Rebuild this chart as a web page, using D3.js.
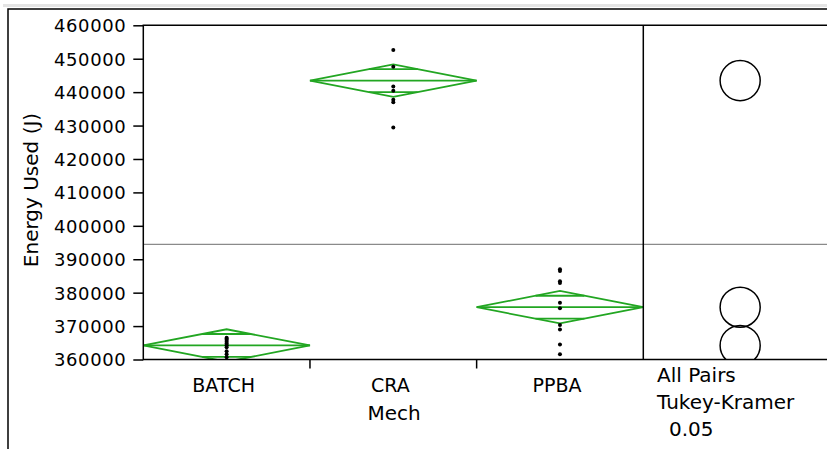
<!DOCTYPE html>
<html>
<head>
<meta charset="utf-8">
<script src="https://cdn.jsdelivr.net/npm/d3@7"></script>
<style>
  body { margin: 0; background: #fff; }
  text { font-family: "DejaVu Sans", sans-serif; fill: #000; }
</style>
</head>
<body>
<svg id="chart"></svg>
<script>
// Data
const categories = ["BATCH", "CRA", "PPBA"];
const yTicks = [360000, 370000, 380000, 390000, 400000, 410000, 420000, 430000, 440000, 450000, 460000];

// raw observations per group
const batchValues = [366500, 366200, 365800, 365300, 364800, 364300, 363700, 362500, 361600, 360700];
const craValues = [452600, 447600, 441700, 440400, 437700, 437000, 429400];
const ppbaValues = [387000, 386500, 383400, 382900, 377000, 375300, 370300, 369000, 364500, 361600];

// means diamonds: group mean and 95% CI half width
const groupMeans = [364200, 443450, 375650];
const ciHalf = [4850, 4850, 4850];
const grandMean = 394450;

// Tukey-Kramer comparison circles (radius in J)
const circleRadius = [6000, 6000, 6000];

const W = 827, H = 449;
const plot = { left: 143.3, right: 643.3, top: 25.3, bottom: 359.5 };
const panelRight = 827;
const green = "#22a622";

const svg = d3.select("#chart")
  .attr("width", W)
  .attr("height", H);

// outer frame bits
svg.append("rect")
  .attr("x", 3).attr("y", 4).attr("width", W).attr("height", 3)
  .attr("fill", "#e4e4e4");
svg.append("path")
  .attr("d", `M8,${H} V9 H${W}`)
  .attr("fill", "none").attr("stroke", "#000").attr("stroke-width", 1.5);

// scales
const x = d3.scaleBand()
  .domain(categories)
  .range([plot.left, plot.right])
  .padding(0);

const y = d3.scaleLinear()
  .domain([360000, 460000])
  .range([plot.bottom, plot.top]);

const defs = svg.append("defs");
defs.append("clipPath").attr("id", "clipPlot")
  .append("rect")
  .attr("x", plot.left).attr("y", plot.top)
  .attr("width", plot.right - plot.left).attr("height", plot.bottom - plot.top);
defs.append("clipPath").attr("id", "clipPanel")
  .append("rect")
  .attr("x", plot.right).attr("y", plot.top)
  .attr("width", panelRight - plot.right).attr("height", plot.bottom - plot.top);

// grand mean line (across plot and comparison panel)
svg.append("line")
  .attr("x1", plot.left).attr("x2", panelRight)
  .attr("y1", y(grandMean)).attr("y2", y(grandMean))
  .attr("stroke", "#8a8a8a").attr("stroke-width", 1.2);

// Y axis
const yAxis = svg.append("g")
  .attr("transform", `translate(${plot.left},0)`)
  .call(d3.axisLeft(y).tickValues(yTicks).tickSize(10).tickPadding(7).tickFormat(d => d));
yAxis.select(".domain").remove();
yAxis.selectAll(".tick line").attr("stroke", "#000").attr("stroke-width", 1.5);
yAxis.selectAll(".tick text")
  .style("font-size", "18px")
  .style("letter-spacing", "0.6px")
  .attr("dy", "0.36em");

// Y axis title
svg.append("text")
  .attr("transform", "translate(38," + 190 + ") rotate(-90)")
  .style("text-anchor", "middle")
  .style("font-size", "20px")
  .text("Energy Used (J)");

// means diamonds
const diamonds = svg.append("g").attr("clip-path", "url(#clipPlot)");
categories.forEach((c, i) => {
  const x0 = x(c), x1 = x(c) + x.bandwidth(), xc = x(c) + x.bandwidth() / 2;
  const m = groupMeans[i], h = ciHalf[i];
  diamonds.append("path")
    .attr("d", `M${x0},${y(m)} L${xc},${y(m + h)} L${x1},${y(m)} L${xc},${y(m - h)} Z`)
    .attr("fill", "none").attr("stroke", green).attr("stroke-width", 1.8);
  // mean line
  diamonds.append("line")
    .attr("x1", x0).attr("x2", x1).attr("y1", y(m)).attr("y2", y(m))
    .attr("stroke", green).attr("stroke-width", 1.8);
  // overlap marks at mean +/- half/sqrt(2)
  const k = 1 / Math.SQRT2;
  const half = x.bandwidth() / 2 * (1 - k);
  [m + h * k, m - h * k].forEach(v => {
    diamonds.append("line")
      .attr("x1", xc - half).attr("x2", xc + half)
      .attr("y1", y(v)).attr("y2", y(v))
      .attr("stroke", green).attr("stroke-width", 1.8);
  });
});

// points
const groups = [batchValues, craValues, ppbaValues];
const pts = groups.flatMap((vals, i) => vals.map(v => ({ cat: categories[i], v })));
svg.append("g").attr("clip-path", "url(#clipPlot)")
  .selectAll("circle")
  .data(pts)
  .enter()
  .append("circle")
  .attr("cx", d => x(d.cat) + x.bandwidth() / 2)
  .attr("cy", d => y(d.v))
  .attr("r", 2)
  .attr("fill", "#000");

// comparison circles
const cx = (plot.right + panelRight) / 2 + 5;
svg.append("g").attr("clip-path", "url(#clipPanel)")
  .selectAll("circle")
  .data(categories)
  .enter()
  .append("circle")
  .attr("cx", cx)
  .attr("cy", (d, i) => y(groupMeans[i]))
  .attr("r", (d, i) => y(360000) - y(360000 + circleRadius[i]))
  .attr("fill", "none")
  .attr("stroke", "#000")
  .attr("stroke-width", 1.5);

// frame lines
svg.append("path")
  .attr("d", `M${panelRight},${plot.top} H${plot.left} V${plot.bottom} H${panelRight}`)
  .attr("fill", "none").attr("stroke", "#000").attr("stroke-width", 1.5);
svg.append("line")
  .attr("x1", plot.right).attr("x2", plot.right)
  .attr("y1", plot.top).attr("y2", plot.bottom)
  .attr("stroke", "#000").attr("stroke-width", 1.5);

// X ticks at band boundaries
svg.selectAll(".xtick")
  .data(categories.slice(1))
  .enter()
  .append("line")
  .attr("class", "xtick")
  .attr("x1", d => x(d)).attr("x2", d => x(d))
  .attr("y1", plot.bottom).attr("y2", plot.bottom + 9)
  .attr("stroke", "#000").attr("stroke-width", 1.5);

// X labels
svg.selectAll(".xlabel")
  .data(categories)
  .enter()
  .append("text")
  .attr("class", "xlabel")
  .attr("x", d => x(d) + x.bandwidth() / 2 - 3)
  .attr("y", 391.5)
  .style("text-anchor", "middle")
  .style("font-size", "19px")
  .text(d => d);

svg.append("text")
  .attr("x", 394).attr("y", 419.5)
  .style("text-anchor", "middle")
  .style("font-size", "20px")
  .text("Mech");

// comparison circles caption
const caption = ["All Pairs", "Tukey-Kramer", " 0.05"];
svg.selectAll(".cap")
  .data(caption)
  .enter()
  .append("text")
  .attr("class", "cap")
  .attr("x", (d, i) => i === 2 ? 669 : 657)
  .attr("y", (d, i) => 381.7 + i * 27)
  .style("font-size", "20px")
  .text(d => d.trim());
</script>
</body>
</html>
